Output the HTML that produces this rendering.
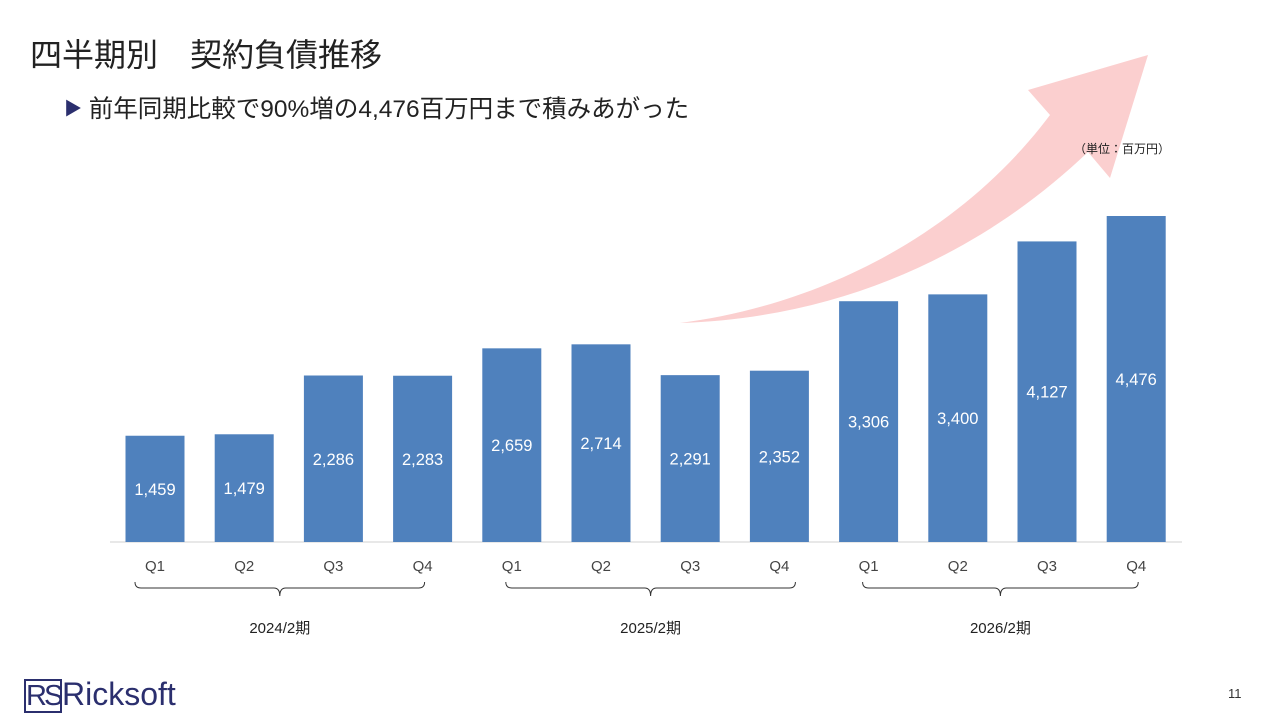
<!DOCTYPE html>
<html><head><meta charset="utf-8">
<style>
body{margin:0;width:1280px;height:720px;background:#fff;overflow:hidden;font-family:"Liberation Sans","Noto Sans CJK JP",sans-serif;position:relative}
.t{position:absolute;white-space:nowrap}
</style></head><body>
<svg id="chart" width="1280" height="720" style="position:absolute;left:0;top:0">
<path fill="#fbcfcf" d="M680,323 C820,305 960,235 1050,115 L1028,90 L1148,55 L1110,178 L1088,152 C980,255 840,318 680,323 Z"/>
<g id="bars"></g>
</svg>
<div class="t" style="left:30px;top:30px;font-size:32px;color:#222">四半期別　契約負債推移</div>
<div class="t" style="left:64px;top:90px;font-size:24.5px;color:#222"><span style="color:#2b2f6e;font-size:18px;position:relative;top:-2px">▶</span> 前年同期比較で90%増の4,476百万円まで積みあがった</div>
<div class="t" style="left:1074px;top:140px;font-size:12px;color:#222">（単位：百万円）</div>
<div class="t" style="left:24px;top:676px;font-size:32px;color:#2b2f6e;font-family:'Liberation Sans',sans-serif"><span style="border:2px solid #2b2f6e;padding:0;letter-spacing:-3px;font-size:29px;display:inline-block;line-height:30px;width:34px">RS</span>Ricksoft</div>
<div class="t" style="left:1228px;top:686px;font-size:13px;color:#333">11</div>
<script>
const quarters=["Q1","Q2","Q3","Q4","Q1","Q2","Q3","Q4","Q1","Q2","Q3","Q4"];
const values=[1459,1479,2286,2283,2659,2714,2291,2352,3306,3400,4127,4476];
const periods=["2024/2期","2025/2期","2026/2期"];
const NS="http://www.w3.org/2000/svg";
const g=document.getElementById('bars');
const base=542,scale=326/4476,x0=155,step=89.2,bw=59;
const xs=i=>x0+i*step, ys=v=>base-v*scale;
function mk(t,a){const e=document.createElementNS(NS,t);for(const k in a)e.setAttribute(k,a[k]);g.appendChild(e);return e;}
const ax=mk('line',{x1:110,x2:1182,y1:base,y2:base,stroke:'#d0d0d0','stroke-width':1});


values.forEach((v,i)=>{
 const r=mk('rect',{x:xs(i)-bw/2,y:ys(v),width:bw,height:base-ys(v),fill:'#4f81bd'});
 
 
 const t=mk('text',{x:xs(i),y:(ys(v)+base)/2+6,'text-anchor':'middle',fill:'#fff','font-size':16.5});
 t.textContent=v.toLocaleString('en-US');
 
 
 const q=mk('text',{x:xs(i),y:571,'text-anchor':'middle',fill:'#444','font-size':15});
 q.textContent=quarters[i];
 
 
});
periods.forEach((p,j)=>{
 const a=xs(j*4)-(j===0?20:6),b=xs(j*4+3)+(j===1?16:2),m=(a+b)/2;
 const br=mk('path',{d:`M${a},582 Q${a},588 ${a+6},588 L${m-6},588 Q${m},588 ${m},596 Q${m},588 ${m+6},588 L${b-6},588 Q${b},588 ${b},582`,fill:'none',stroke:'#333','stroke-width':1});
 
 
 const t=mk('text',{x:m,y:633,'text-anchor':'middle',fill:'#222','font-size':15});
 t.textContent=p;
 
 
});
</script>
</body></html>
